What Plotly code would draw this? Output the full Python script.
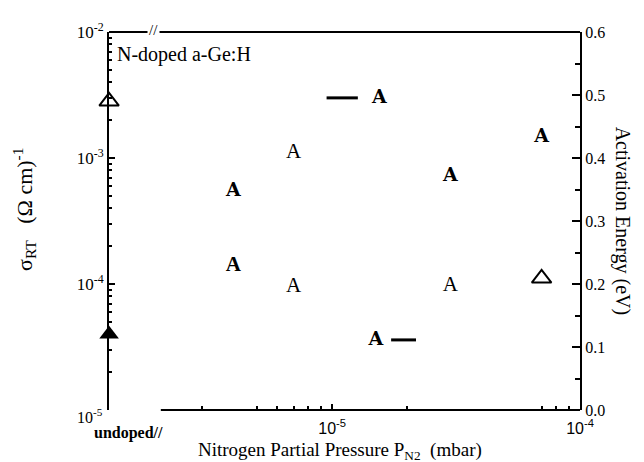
import plotly.graph_objects as go

# ---------------- data ----------------
UNDOPED_P = 1.26e-6                      # position of the "undoped" column
undoped_sigma = [4.0e-5]                 # filled triangle (left axis)
undoped_ea = [0.49]                      # open triangle (right axis)

# conductivity points (bold glyphs, left log axis)
sig_p = [4.0e-6, 1.55e-5, 1.5e-5, 3.0e-5, 7.0e-5]
sig_v = [5.4e-4, 3.0e-3, 3.6e-5, 7.2e-4, 1.46e-3]
sig2_p = [4.0e-6]
sig2_v = [1.4e-4]

# activation energy points (regular glyphs, right axis)
ea_p = [7.0e-6, 7.0e-6, 3.0e-5]
ea_v = [0.409, 0.196, 0.197]
ea_tri_p = [7.0e-5]
ea_tri_v = [0.209]

# short dash remnants
dash1_p = [9.5e-6, 1.27e-5]
dash1_v = [3.0e-3, 3.0e-3]
dash2_p = [1.73e-5, 2.18e-5]
dash2_v = [3.6e-5, 3.6e-5]

x_ticks = [1e-5, 1e-4]
x_ticktext = ["10<sup>-5</sup>", "10<sup>-4</sup>"]
x_minor = [3e-6, 5e-6, 6e-6, 7e-6, 8e-6, 9e-6, 2e-5, 7e-5, 8e-5, 9e-5]
y_ticks = [1e-2, 1e-3, 1e-4]
y_ticktext = ["10<sup>-2</sup>", "10<sup>-3</sup>", "10<sup>-4</sup>"]
y_minor = [m * 10.0 ** d for d in (-5, -4, -3) for m in (2, 3, 4, 5, 6, 7, 8, 9)]
e_ticks = [0, 0.1, 0.2, 0.3, 0.4, 0.5, 0.6]
e_ticktext = ["0.0", "0.1", "0.2", "0.3", "0.4", "0.5", "0.6"]
e_minor = [0.05, 0.15, 0.25, 0.35, 0.45, 0.55]

SERIF = "Liberation Serif, Times New Roman, serif"
SLAB = "DejaVu Serif, serif"
SANS = "Liberation Sans Narrow, Liberation Sans, Arial, sans-serif"

fig = go.Figure()

fig.add_trace(go.Scatter(x=[UNDOPED_P], y=undoped_sigma, mode="markers", cliponaxis=False,
                         marker=dict(symbol="triangle-up", size=17, color="black"),
                         showlegend=False))
fig.add_trace(go.Scatter(x=[UNDOPED_P], y=undoped_ea, yaxis="y2", mode="markers", cliponaxis=False,
                         marker=dict(symbol="triangle-up-open", size=17, color="black",
                                     line=dict(width=2, color="black")),
                         showlegend=False))
fig.add_trace(go.Scatter(x=ea_tri_p, y=ea_tri_v, yaxis="y2", mode="markers",
                         marker=dict(symbol="triangle-up-open", size=17, color="black",
                                     line=dict(width=2, color="black")),
                         showlegend=False))

fig.add_trace(go.Scatter(x=sig_p, y=sig_v, mode="text", text=["<b>A</b>"] * len(sig_p),
                         textposition="middle center",
                         textfont=dict(family=SLAB, size=19, color="black"), showlegend=False))
fig.add_trace(go.Scatter(x=sig2_p, y=sig2_v, mode="text", text=["<b>A</b>"] * len(sig2_p),
                         textposition="middle center",
                         textfont=dict(family=SERIF, size=21, color="black"), showlegend=False))
fig.add_trace(go.Scatter(x=ea_p, y=ea_v, yaxis="y2", mode="text", text=["A"] * len(ea_p),
                         textposition="middle center",
                         textfont=dict(family=SERIF, size=21, color="black"), showlegend=False))

for dp, dv in ((dash1_p, dash1_v), (dash2_p, dash2_v)):
    fig.add_trace(go.Scatter(x=dp, y=dv, mode="lines", line=dict(color="black", width=3),
                             showlegend=False))

fig.update_layout(
    width=644, height=462,
    margin=dict(l=101, r=72, t=22, b=60),
    paper_bgcolor="white", plot_bgcolor="white",
    xaxis=dict(type="log", range=[-5.9, -4.0], showline=False, showgrid=False, zeroline=False,
               tickmode="array", tickvals=x_ticks, ticktext=x_ticktext,
               ticks="inside", ticklen=6, tickcolor="black", tickwidth=1.5,
               ticklabelstandoff=7,
               minor=dict(tickmode="array", tickvals=x_minor, ticks="inside", ticklen=4,
                          tickcolor="black", tickwidth=1.5, showgrid=False),
               tickfont=dict(family=SANS, size=16, color="black")),
    yaxis=dict(type="log", range=[-5, -2], showline=True, linecolor="black", linewidth=2,
               showgrid=False, zeroline=False, tickmode="array", tickvals=y_ticks,
               ticktext=y_ticktext, ticks="inside", ticklen=6, tickcolor="black", tickwidth=1.5,
               minor=dict(tickmode="array", tickvals=y_minor, ticks="inside", ticklen=3,
                          tickcolor="black", tickwidth=1.5, showgrid=False),
               tickfont=dict(family=SERIF, size=17, color="black")),
    yaxis2=dict(overlaying="y", side="right", range=[0, 0.6], showline=True, linecolor="black",
                linewidth=2, showgrid=False, zeroline=False, tickmode="array",
                tickvals=e_ticks, ticktext=e_ticktext, ticks="inside", ticklen=8,
                tickcolor="black", tickwidth=1.5,
                minor=dict(tickmode="array", tickvals=e_minor, ticks="inside", ticklen=5,
                           tickcolor="black", tickwidth=1.5, showgrid=False),
                tickfont=dict(family=SERIF, size=16, color="black")),
    shapes=[
        dict(type="line", xref="paper", yref="paper", x0=0, x1=1, y0=1, y1=1,
             line=dict(color="black", width=2)),
        dict(type="line", xref="paper", yref="paper", x0=0.11, x1=1, y0=0, y1=0,
             line=dict(color="black", width=2)),
    ],
    annotations=[
        dict(text="N-doped a-Ge:H", xref="paper", yref="paper", x=0.012, y=0.975,
             xanchor="left", yanchor="top", showarrow=False,
             font=dict(family=SERIF, size=20, color="black")),
        dict(text="//", xref="paper", yref="paper", x=0.095, y=1.005, showarrow=False,
             xanchor="center", yanchor="middle", bgcolor="white",
             font=dict(family=SERIF, size=15, color="black")),
        dict(text="10<sup>-5</sup>", xref="paper", yref="paper", x=0.0, y=-0.015,
             xanchor="right", yanchor="middle", showarrow=False, xshift=-4,
             font=dict(family=SERIF, size=16, color="black")),
        dict(text="<b>undoped//</b>", xref="paper", yref="paper", x=0.118, y=-0.06,
             xanchor="right", yanchor="middle", showarrow=False,
             font=dict(family=SERIF, size=16, color="black")),
        dict(text="Nitrogen Partial Pressure P<sub>N2</sub>  (mbar)", xref="paper",
             yref="paper", x=0.49, y=-0.108, xanchor="center", yanchor="middle",
             showarrow=False, font=dict(family=SERIF, size=19, color="black")),
        dict(text="σ<sub>RT</sub>   (Ω cm)<sup>-1</sup>", xref="paper", yref="paper",
             x=-0.18, y=0.53, textangle=-90, xanchor="center", yanchor="middle",
             showarrow=False, font=dict(family=SERIF, size=22, color="black")),
        dict(text="Activation Energy (eV)", xref="paper", yref="paper",
             x=1.092, y=0.5, textangle=90, xanchor="center", yanchor="middle",
             showarrow=False, font=dict(family=SERIF, size=20, color="black")),
    ],
)

fig.write_html("out.html")
